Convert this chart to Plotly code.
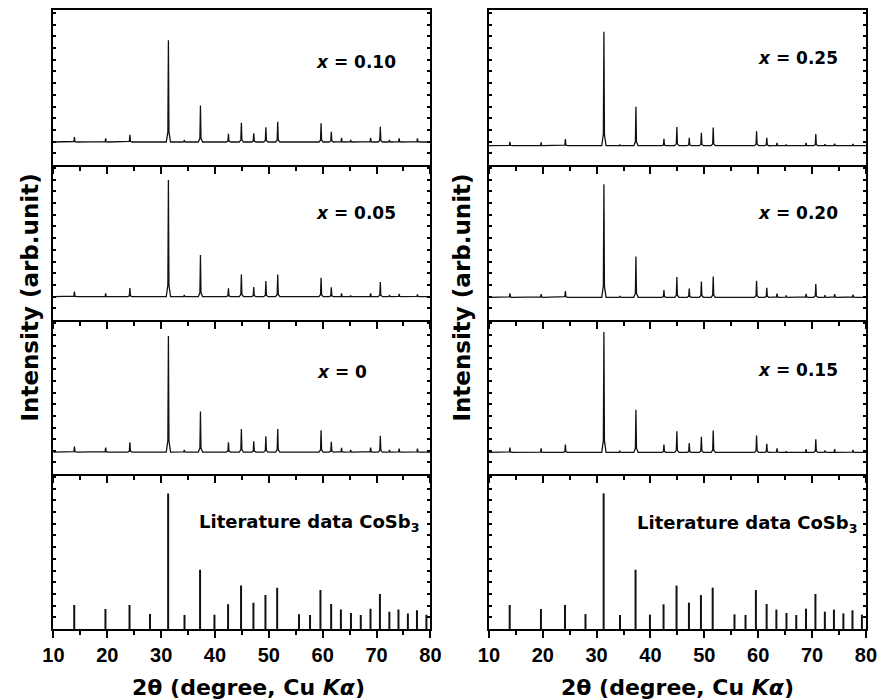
import plotly.graph_objects as go

# ---------------- data ----------------
peak_2theta = [13.9, 19.7, 24.2, 31.35, 34.3, 37.3, 42.5, 44.9, 47.2, 49.45, 51.65,
               59.7, 61.6, 63.5, 65.2, 68.9, 70.7, 72.4, 74.2, 77.6]

int_x010 = [4.9, 3.6, 7.0, 100, 2.0, 36, 8.0, 19, 8.5, 14.5, 20, 18.5, 10, 4.0, 2.0, 4.0, 15, 2.0, 3.5, 3.5]
int_x005 = [4.3, 2.9, 7.4, 100, 1.5, 35.7, 7.1, 19, 8.3, 13.4, 19, 16.3, 8.0, 2.9, 1.0, 2.9, 12.6, 1.5, 2.3, 2.0]
int_x000 = [4.8, 4.0, 8.5, 100, 2.0, 35, 8.5, 20, 9.4, 13.7, 20, 18.8, 9.0, 3.7, 2.0, 4.0, 14.2, 2.0, 3.0, 3.0]
int_x025 = [3.5, 2.9, 5.8, 100, 1.0, 34.2, 6.1, 16.4, 7.0, 11.4, 16, 12.6, 7.0, 2.6, 1.0, 2.6, 10.2, 1.2, 1.8, 1.5]
int_x020 = [3.5, 2.7, 5.6, 100, 1.0, 36, 6.5, 18, 7.7, 13.9, 18.3, 14.5, 8.3, 3.2, 1.5, 3.0, 11.8, 1.8, 2.7, 2.4]
int_x015 = [4.1, 3.3, 6.6, 100, 1.4, 35.4, 6.6, 17.6, 7.7, 12.9, 18.1, 14.0, 7.1, 3.3, 1.0, 2.7, 11.0, 1.6, 2.7, 2.2]

lit_2theta = [13.86, 19.66, 24.13, 27.93, 31.3, 34.34, 37.23, 39.9, 42.43, 44.84, 47.14, 49.37,
              51.55, 55.6, 57.65, 59.58, 61.57, 63.38, 65.25, 67.07, 68.88, 70.63, 72.38, 74.07,
              75.82, 77.51, 79.26]
lit_int = [17.7, 14.7, 17.7, 11, 100, 10.3, 43.7, 10.6, 18.2, 32, 19.4, 25, 30.5, 10.8, 10.3,
           28.7, 18.4, 14.3, 11.8, 10.3, 15, 25.8, 12.8, 14.3, 11.5, 13.8, 10.6]

x_ticks = [10, 20, 30, 40, 50, 60, 70, 80]
labels_left = ["<i>x</i> = 0.10", "<i>x</i> = 0.05", "<i>x</i> = 0"]
labels_right = ["<i>x</i> = 0.25", "<i>x</i> = 0.20", "<i>x</i> = 0.15"]
lit_label = "Literature data CoSb<sub>3</sub>"

# ---------------- layout geometry ----------------
W, H = 892, 699
col_x = [(43.5, 430.0), (490.0, 876.5)]
row_y = [(10, 165), (165, 320), (320, 474), (474, 629)]  # pixel top/bottom


def py(p):
    return 1 - p / H


def px(p):
    return p / W


ranges_left = [(-22.6, 129.8), (-20.0, 112.9), (-18.8, 113.7), (0, 114.3)]
ranges_right = [(-16.9, 119.0), (-20.1, 117.0), (-17.9, 109.9), (0, 114.3)]


def profile(pos, hts):
    xs, ys = [10.0], [0.0]
    for p, h in zip(pos, hts):
        xs += [p - 0.4, p - 0.1, p, p + 0.1, p + 0.4]
        ys += [0, 0.1 * h, h, 0.1 * h, 0]
    xs.append(80.0)
    ys.append(0.0)
    return xs, ys


def sticks(pos, hts):
    xs, ys = [], []
    for p, h in zip(pos, hts):
        xs += [p, p, None]
        ys += [0, h, None]
    return xs, ys


fig = go.Figure()
layout = dict(width=W, height=H, margin=dict(l=0, r=0, t=0, b=0),
              plot_bgcolor="white", paper_bgcolor="white", showlegend=False)

tick_font = dict(family="Liberation Sans", size=20, color="black", weight=700)
ann_font = "DejaVu Sans"

series_cols = [[int_x010, int_x005, int_x000], [int_x025, int_x020, int_x015]]
ranges_cols = [ranges_left, ranges_right]
annotations = []

k = 0
for c in range(2):
    for r in range(4):
        k += 1
        xa = "x" if k == 1 else f"x{k}"
        ya = "y" if k == 1 else f"y{k}"
        if r < 3:
            xs, ys = profile(peak_2theta, series_cols[c][r])
            fig.add_trace(go.Scatter(x=xs, y=ys, mode="lines", xaxis=xa, yaxis=ya,
                                     line=dict(color="#111111", width=1.3)))
        else:
            xs, ys = sticks(lit_2theta, lit_int)
            fig.add_trace(go.Scatter(x=xs, y=ys, mode="lines", xaxis=xa, yaxis=ya,
                                     line=dict(color="#111111", width=2)))
        lo, hi = ranges_cols[c][r]
        span = hi - lo
        top, bot = row_y[r]
        layout[f"xaxis{k}" if k > 1 else "xaxis"] = dict(
            domain=[px(col_x[c][0]), px(col_x[c][1])], anchor=ya, range=[10, 80],
            showline=True, linewidth=2, linecolor="black", mirror=(r == 0),
            ticks="outside", ticklen=7, tickwidth=2, tickcolor="black",
            tickvals=x_ticks, showticklabels=(r == 3), tickfont=tick_font,
            minor=dict(ticks="outside", ticklen=4, tickwidth=2, tickcolor="black", dtick=5, tick0=10),
            showgrid=False, zeroline=False, fixedrange=True)
        layout[f"yaxis{k}" if k > 1 else "yaxis"] = dict(
            domain=[py(bot), py(top)], anchor=xa, range=[lo, hi],
            showline=True, linewidth=1.8, linecolor="black", mirror="ticks",
            ticks="inside", ticklen=3, tickwidth=1.5, tickcolor="black",
            tick0=lo, dtick=11.7 * span / 155.0, showticklabels=False,
            showgrid=False, zeroline=False, fixedrange=True)

lab_pos_left = [(397, 62), (397, 213), (367, 372)]
lab_pos_right = [(850, 58), (850, 213), (850, 370)]
for labs, poss in ((labels_left, lab_pos_left), (labels_right, lab_pos_right)):
    for t, (x0, y0) in zip(labs, poss):
        annotations.append(dict(text=f"<b>{t}</b>", x=px(x0), y=py(y0), xref="paper", yref="paper",
                                xanchor="right", yanchor="middle", showarrow=False,
                                font=dict(family=ann_font, size=17, color="black")))
for x0, y0 in ((421, 523), (870, 524)):
    annotations.append(dict(text=f"<b>{lit_label}</b>", x=px(x0), y=py(y0), xref="paper", yref="paper",
                            xanchor="right", yanchor="middle", showarrow=False,
                            font=dict(family=ann_font, size=18, color="black")))

for x0 in (243.5, 683):
    annotations.append(dict(text="<b>2θ (degree, Cu <i>K</i><i>α</i>)</b>", x=px(x0), y=py(687),
                            xref="paper", yref="paper", xanchor="center", yanchor="middle",
                            showarrow=False, font=dict(family=ann_font, size=22, color="black")))
for x0 in (19, 462):
    annotations.append(dict(text="<b>Intensity (arb.unit)</b>", x=px(x0), y=py(298),
                            xref="paper", yref="paper", xanchor="center", yanchor="middle",
                            textangle=-90, showarrow=False,
                            font=dict(family=ann_font, size=23, color="black")))

layout["annotations"] = annotations
fig.update_layout(**layout)
fig.write_html("out.html")
